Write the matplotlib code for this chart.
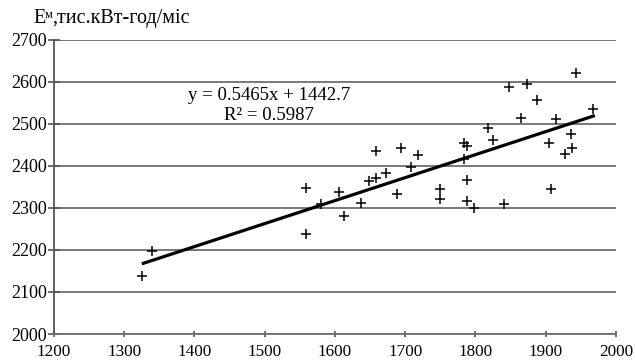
import matplotlib
matplotlib.use("Agg")
import matplotlib.pyplot as plt

plt.rcParams['font.family'] = ['Liberation Serif', 'DejaVu Serif']

# monthly consumption points
x_vals = [1325, 1339, 1559, 1559, 1580, 1606, 1613, 1637, 1648, 1658, 1658,
          1672, 1689, 1694, 1708, 1718, 1749, 1749, 1783, 1783, 1788, 1788,
          1788, 1798, 1818, 1825, 1841, 1848, 1865, 1873, 1887, 1904, 1907,
          1914, 1927, 1936, 1938, 1943, 1968]
y_vals = [2137, 2198, 2346, 2237, 2309, 2338, 2281, 2312, 2363, 2372, 2435,
          2383, 2332, 2442, 2397, 2425, 2344, 2320, 2453, 2415, 2447, 2366,
          2316, 2300, 2489, 2461, 2310, 2587, 2514, 2595, 2556, 2454, 2344,
          2512, 2427, 2476, 2443, 2621, 2536]

slope = 0.5465
intercept = 1442.7
r2 = 0.5987
x_ticks = [1200, 1300, 1400, 1500, 1600, 1700, 1800, 1900, 2000]
y_ticks = [2000, 2100, 2200, 2300, 2400, 2500, 2600, 2700]

fig = plt.figure(figsize=(6.35, 3.64), dpi=100)
ax = fig.add_axes([0.085, 0.0824, 0.885, 0.809])

ax.set_xlim(1200, 2000)
ax.set_ylim(2000, 2700)
ax.set_xticks(x_ticks)
ax.set_yticks(y_ticks)
ax.yaxis.grid(True, color='#6e6e6e', linewidth=1.3)
ax.set_axisbelow(True)

for s in ['top', 'right']:
    ax.spines[s].set_visible(False)
ax.spines['left'].set_color('#555555')
ax.spines['left'].set_linewidth(1.3)
ax.spines['bottom'].set_color('#6e6e6e')
ax.spines['bottom'].set_linewidth(1.3)
ax.tick_params(axis='y', direction='inout', length=8, width=1.2,
               color='#555555', labelsize=13, pad=1)
ax.tick_params(axis='x', direction='inout', length=4, width=1.2,
               color='#555555', labelsize=12.3, pad=5)

ax.plot(x_vals, y_vals, linestyle='none', marker='+', markersize=7,
        markeredgewidth=1.1, color='black')

x_line = [min(x_vals), max(x_vals) + 2]
y_line = [slope * v + intercept for v in x_line]
ax.plot(x_line, y_line, color='black', linewidth=2.3, solid_capstyle='butt')

ax.text(1506, 2567, f'y = {slope}x + {intercept}', fontsize=13.5, ha='center', va='center')
ax.text(1506, 2520, f'R² = {r2}', fontsize=13.5, ha='center', va='center')

fig.text(0.052, 0.948, 'E', fontsize=14.5, ha='left', va='center')
fig.text(0.0705, 0.958, 'м', fontsize=9, ha='left', va='center')
fig.text(0.0815, 0.948, ',тис.кВт-год/міс', fontsize=14.5, ha='left', va='center')

fig.savefig('out.png', dpi=100)
